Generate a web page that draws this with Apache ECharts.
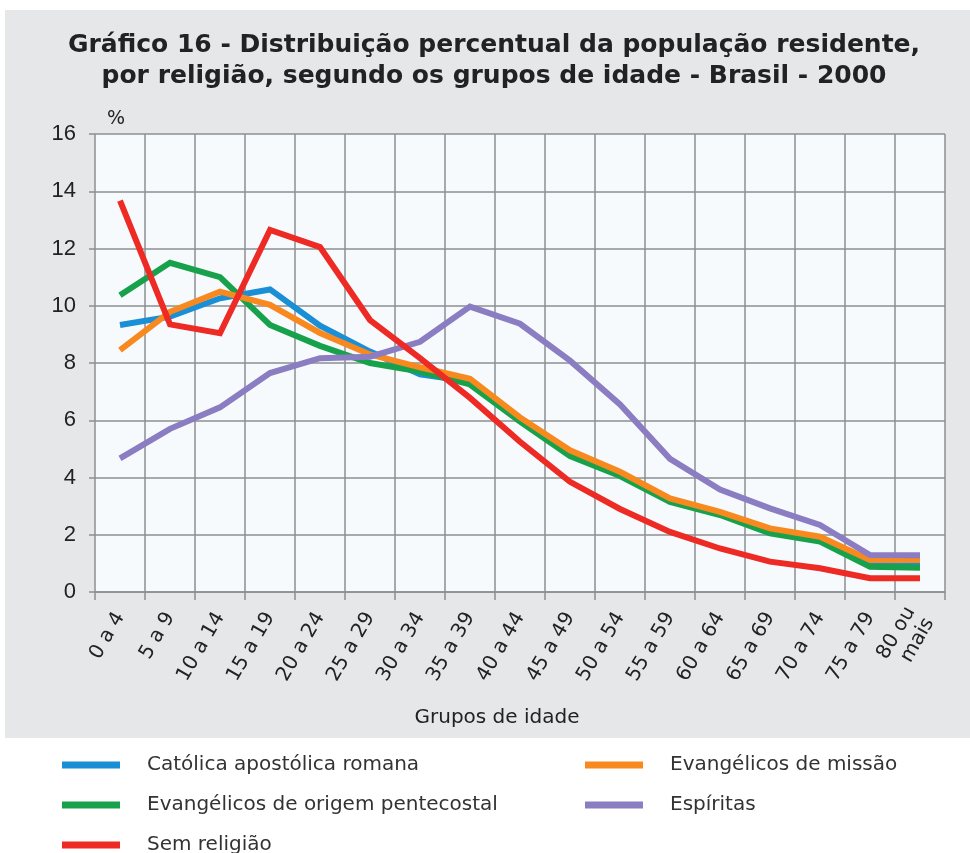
<!DOCTYPE html>
<html>
<head>
<meta charset="utf-8">
<script src="https://cdn.jsdelivr.net/npm/echarts@6/dist/echarts.min.js"></script>
<style>
html,body{margin:0;padding:0;background:#fff;}
#chart{width:970px;height:853px;}
</style>
</head>
<body>
<div id="chart"></div>
<script>
var categories = ['0 a 4','5 a 9','10 a 14','15 a 19','20 a 24','25 a 29','30 a 34','35 a 39','40 a 44','45 a 49','50 a 54','55 a 59','60 a 64','65 a 69','70 a 74','75 a 79','80 ou\nmais'];
var catolica    = [9.33, 9.62, 10.26, 10.57, 9.3, 8.4, 7.6, 7.35, 6.0, 4.85, 4.1, 3.2, 2.75, 2.12, 1.82, 1.0, 1.0];
var pentecostal = [10.37, 11.5, 11.0, 9.33, 8.6, 8.0, 7.7, 7.25, 5.95, 4.75, 4.05, 3.15, 2.69, 2.05, 1.76, 0.88, 0.85];
var missao      = [8.45, 9.79, 10.49, 10.03, 9.05, 8.3, 7.85, 7.45, 6.1, 4.95, 4.2, 3.27, 2.8, 2.22, 1.93, 1.12, 1.12];
var espiritas   = [4.67, 5.7, 6.45, 7.65, 8.17, 8.22, 8.74, 9.97, 9.37, 8.08, 6.55, 4.65, 3.58, 2.92, 2.34, 1.29, 1.28];
var semReligiao = [13.67, 9.35, 9.04, 12.65, 12.05, 9.5, 8.17, 6.78, 5.25, 3.85, 2.9, 2.1, 1.52, 1.06, 0.83, 0.48, 0.48];
var seriesNames = ['Católica apostólica romana','Evangélicos de origem pentecostal','Sem religião','Evangélicos de missão','Espíritas'];
var colors = {cat:'#1b8fd6', pen:'#17a14b', sem:'#ee2a24', mis:'#f7891f', esp:'#8b7dc2'};

var chart = echarts.init(document.getElementById('chart'), null, {renderer:'canvas'});
function line(name, data, color, z){
  return {name:name, type:'line', data:data, symbol:'none', z:z,
    lineStyle:{width:6, color:color, join:'miter'}, itemStyle:{color:color}};
}
var lib = 'Liberation Sans, Arial, sans-serif';
var dv = 'DejaVu Sans, sans-serif';
var legendBase = {orient:'vertical', top:755, height:110, padding:0, itemWidth:58, itemHeight:7, itemGap:20,
  icon:'rect', textStyle:{fontSize:20, lineHeight:20, color:'#333', padding:[0,0,0,22], fontFamily:dv}};
chart.setOption({
  animation:false,
  textStyle:{fontFamily:dv},
  graphic:[{type:'rect', z:-10, silent:true, shape:{x:5, y:10, width:965, height:728}, style:{fill:'#e5e7e8'}}],
  title:{
    text:'Gráfico 16 - Distribuição percentual da população residente,\npor religião, segundo os grupos de idade - Brasil - 2000',
    left:489, top:25, textAlign:'center',
    textStyle:{fontSize:25, fontWeight:'bold', color:'#222', lineHeight:31, fontFamily:dv}
  },
  legend:[
    Object.assign({}, legendBase, {data:seriesNames.slice(0,3), left:62}),
    Object.assign({}, legendBase, {data:seriesNames.slice(3), left:585})
  ],
  grid:{left:95, right:25, top:134, bottom:261, show:true, backgroundColor:'#f7fafd', borderWidth:0},
  xAxis:{
    type:'category', data:categories, boundaryGap:true,
    name:'Grupos de idade', nameLocation:'middle', nameGap:116,
    nameTextStyle:{fontSize:20, color:'#222', fontFamily:dv, padding:[0,46,0,0]},
    axisLine:{lineStyle:{color:'#8c8f92', width:1.5}},
    axisTick:{show:true, length:8, lineStyle:{color:'#8c8f92', width:1.5}},
    splitLine:{show:true, lineStyle:{color:'#8c8f92', width:1.5}},
    axisLabel:{rotate:60, fontSize:20, color:'#222', margin:22, interval:0, lineHeight:22, fontFamily:dv}
  },
  yAxis:{
    type:'value', min:0, max:16, interval:2,
    name:'%', nameLocation:'end', nameGap:5,
    nameTextStyle:{fontSize:19, color:'#222', align:'left', padding:[0,0,0,12], fontFamily:dv},
    axisLine:{show:false},
    axisTick:{show:true, length:6, lineStyle:{color:'#8c8f92', width:1.5}},
    splitLine:{show:true, lineStyle:{color:'#8c8f92', width:1.5}},
    axisLabel:{fontSize:22, color:'#222', margin:19, fontFamily:lib}
  },
  series:[
    line(seriesNames[0], catolica, colors.cat, 2),
    line(seriesNames[1], pentecostal, colors.pen, 3),
    line(seriesNames[2], semReligiao, colors.sem, 6),
    line(seriesNames[3], missao, colors.mis, 4),
    line(seriesNames[4], espiritas, colors.esp, 5)
  ]
});
</script>
</body>
</html>
